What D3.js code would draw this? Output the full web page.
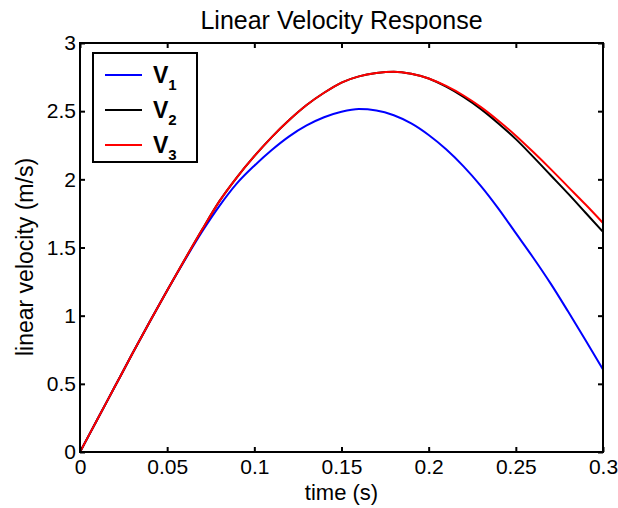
<!DOCTYPE html>
<html>
<head>
<meta charset="utf-8">
<script src="https://cdn.jsdelivr.net/npm/d3@7"></script>
<style>
  body { margin: 0; background: #fff; }
  svg { display: block; font-family: "Liberation Sans", Arial, sans-serif; }
</style>
</head>
<body>
<div id="chart"></div>
<script>
// time samples (s)
var time = [0, 0.01, 0.02, 0.03, 0.04, 0.05, 0.06, 0.07, 0.08, 0.09, 0.10,
            0.11, 0.12, 0.13, 0.14, 0.15, 0.16, 0.17, 0.18, 0.19, 0.20,
            0.21, 0.22, 0.23, 0.24, 0.25, 0.26, 0.27, 0.28, 0.29, 0.30];

var v1 = [0, 0.24, 0.48, 0.72, 0.955, 1.185, 1.405, 1.615, 1.805, 1.97, 2.10,
          2.215, 2.315, 2.395, 2.455, 2.495, 2.515, 2.505, 2.47, 2.41, 2.325,
          2.22, 2.095, 1.95, 1.785, 1.605, 1.425, 1.235, 1.03, 0.82, 0.605];

var v2 = [0, 0.24, 0.48, 0.72, 0.955, 1.185, 1.41, 1.63, 1.84, 2.015, 2.17,
          2.31, 2.435, 2.545, 2.635, 2.71, 2.755, 2.78, 2.79, 2.775, 2.74,
          2.68, 2.605, 2.515, 2.41, 2.295, 2.165, 2.03, 1.895, 1.755, 1.615];

var v3 = [0, 0.24, 0.48, 0.72, 0.955, 1.185, 1.41, 1.63, 1.84, 2.015, 2.17,
          2.31, 2.435, 2.545, 2.635, 2.71, 2.755, 2.78, 2.79, 2.775, 2.74,
          2.685, 2.615, 2.53, 2.43, 2.32, 2.20, 2.075, 1.945, 1.815, 1.68];

var seriesNames = ["1", "2", "3"];
var seriesColors = ["#0000ff", "#000000", "#ff0000"];

var xTicks = [0, 0.05, 0.1, 0.15, 0.2, 0.25, 0.3];
var xTickLabels = ["0", "0.05", "0.1", "0.15", "0.2", "0.25", "0.3"];
var yTicks = [0, 0.5, 1, 1.5, 2, 2.5, 3];
var yTickLabels = ["0", "0.5", "1", "1.5", "2", "2.5", "3"];

var w = 618, h = 508;
var padLeft = 80, padRight = 603, padTop = 43, padBottom = 452;

var svg = d3.select("#chart").append("svg")
    .attr("width", w)
    .attr("height", h);

var x = d3.scaleLinear([0, 0.3], [padLeft, padRight]);
var y = d3.scaleLinear([0, 3], [padBottom, padTop]);

// title
svg.append("text")
    .attr("x", (padLeft + padRight) / 2)
    .attr("y", 29)
    .attr("text-anchor", "middle")
    .style("font-size", "25px")
    .text("Linear Velocity Response");

// curves
var line = d3.line()
    .x(function (d, i) { return x(time[i]); })
    .y(function (d) { return y(d); })
    .curve(d3.curveMonotoneX);

[v1, v2, v3].forEach(function (s, i) {
    svg.append("path")
        .datum(s)
        .attr("fill", "none")
        .attr("stroke", seriesColors[i])
        .attr("stroke-width", 2)
        .attr("d", line);
});

// axes, ticks pointing inward on all four sides
var fmtX = function (d, i) { return xTickLabels[i]; };
var fmtY = function (d, i) { return yTickLabels[i]; };

svg.append("g")
    .attr("transform", "translate(0," + padBottom + ")")
    .call(d3.axisBottom(x).tickValues(xTicks).tickFormat(fmtX)
        .tickSizeInner(-5).tickSizeOuter(0).tickPadding(7));

svg.append("g")
    .attr("transform", "translate(0," + padTop + ")")
    .call(d3.axisTop(x).tickValues(xTicks).tickFormat("")
        .tickSizeInner(-5).tickSizeOuter(0));

svg.append("g")
    .attr("transform", "translate(" + padLeft + ",0)")
    .call(d3.axisLeft(y).tickValues(yTicks).tickFormat(fmtY)
        .tickSizeInner(-5).tickSizeOuter(0).tickPadding(4));

svg.append("g")
    .attr("transform", "translate(" + padRight + ",0)")
    .call(d3.axisRight(y).tickValues(yTicks).tickFormat("")
        .tickSizeInner(-5).tickSizeOuter(0));

svg.selectAll(".domain").remove();
svg.selectAll(".tick line").attr("stroke", "#000").attr("stroke-width", 2);
svg.selectAll(".tick text")
    .attr("fill", "#000")
    .style("font-size", "21px")
    .style("font-family", "\"Liberation Sans\", Arial, sans-serif");

svg.append("rect")
    .attr("x", padLeft)
    .attr("y", padTop)
    .attr("width", padRight - padLeft)
    .attr("height", padBottom - padTop)
    .attr("fill", "none")
    .attr("stroke", "#000")
    .attr("stroke-width", 2);

// axis labels
svg.append("text")
    .attr("x", (padLeft + padRight) / 2)
    .attr("y", 500)
    .attr("text-anchor", "middle")
    .style("font-size", "22px")
    .text("time (s)");

svg.append("text")
    .attr("transform", "translate(33,257) rotate(-90)")
    .attr("text-anchor", "middle")
    .style("font-size", "23px")
    .text("linear velocity (m/s)");

// legend
var legend = svg.append("g");
legend.append("rect")
    .attr("x", 93)
    .attr("y", 53)
    .attr("width", 104)
    .attr("height", 109)
    .attr("fill", "#fff")
    .attr("stroke", "#000")
    .attr("stroke-width", 2);

seriesNames.forEach(function (n, i) {
    var ly = 75 + i * 35;
    legend.append("line")
        .attr("x1", 105).attr("x2", 142)
        .attr("y1", ly).attr("y2", ly)
        .attr("stroke", seriesColors[i])
        .attr("stroke-width", 2);
    var t = legend.append("text")
        .attr("x", 153)
        .attr("y", ly + 8)
        .style("font-size", "23px")
        .style("font-weight", "bold");
    t.append("tspan").text("V");
    t.append("tspan")
        .attr("dy", 7)
        .style("font-size", "15px")
        .text(n);
});
</script>
</body>
</html>
